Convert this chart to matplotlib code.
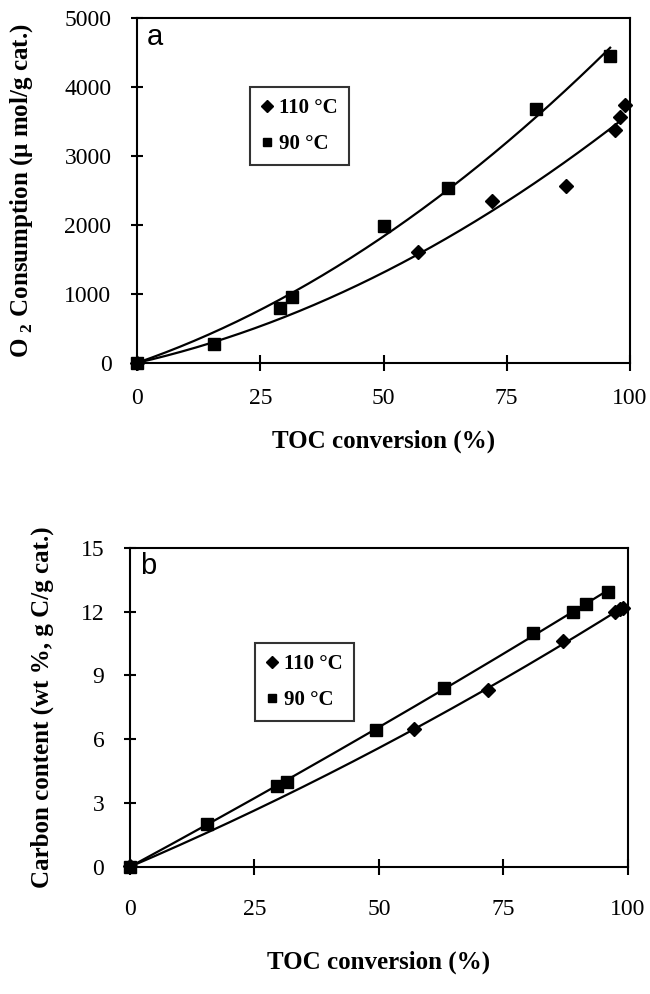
import numpy as np
import matplotlib
matplotlib.use("Agg")
import matplotlib.pyplot as plt

plt.rcParams['font.family'] = ['Liberation Serif', 'DejaVu Serif']
plt.rcParams['mathtext.fontset'] = 'custom'
plt.rcParams['mathtext.rm'] = 'Liberation Serif'
plt.rcParams['mathtext.bf'] = 'Liberation Serif:bold'

# Panel a: O2 consumption
a_x90 = [0, 15.5, 29, 31.5, 50, 63, 81, 96]
a_y90 = [0, 270, 800, 950, 1990, 2540, 3680, 4450]
a_x110 = [0, 57, 72, 87, 97, 98, 99]
a_y110 = [0, 1610, 2350, 2560, 3380, 3570, 3740]

# Panel b: carbon content
b_x90 = [0, 15.5, 29.5, 31.5, 49.5, 63, 81, 89, 91.5, 96]
b_y90 = [0, 2.0, 3.8, 4.0, 6.45, 8.4, 11.0, 12.0, 12.35, 12.9]
b_x110 = [0, 57, 72, 87, 97.5, 98.5, 99]
b_y110 = [0.05, 6.5, 8.3, 10.6, 12.0, 12.1, 12.15]

xticks = [0, 25, 50, 75, 100]
a_yticks = [0, 1000, 2000, 3000, 4000, 5000]
b_yticks = [0, 3, 6, 9, 12, 15]


def fit_curve(x, y, deg):
    x = np.asarray(x, float)
    y = np.asarray(y, float)
    A = np.vstack([x ** k for k in range(1, deg + 1)]).T
    coef, *_ = np.linalg.lstsq(A, y, rcond=None)
    xs = np.linspace(0, x.max(), 200)
    ys = sum(c * xs ** (k + 1) for k, c in enumerate(coef))
    return xs, ys


fig = plt.figure(figsize=(6.5, 9.94), dpi=100)
ax1 = fig.add_axes([0.211, 0.635, 0.758, 0.347])
ax2 = fig.add_axes([0.200, 0.128, 0.766, 0.321])


def style(ax, yticks, ylim, ylabel, letter, legloc, ylabelpad, xpad, xlabelpad):
    ax.set_xlim(0, 100)
    ax.set_ylim(*ylim)
    ax.set_xticks(xticks)
    ax.set_yticks(yticks)
    ax.tick_params(axis='x', direction='inout', length=12, width=1.5, pad=xpad, labelsize=17)
    ax.tick_params(axis='y', direction='inout', length=9, width=1.5, pad=14, labelsize=17)
    for s in ax.spines.values():
        s.set_linewidth(1.5)
    ax.set_xlabel('TOC conversion (%)', fontsize=18, fontweight='bold', labelpad=xlabelpad)
    ax.set_ylabel(ylabel, fontsize=18, fontweight='bold', labelpad=ylabelpad)
    ax.text(0.02, 0.985, letter, transform=ax.transAxes, fontsize=21,
            family='Liberation Sans', va='top', ha='left')
    leg = ax.legend(loc='upper left', bbox_to_anchor=legloc, frameon=True,
                    fancybox=False, edgecolor='black', handlelength=0.5,
                    handletextpad=0.35, borderpad=0.55, labelspacing=0.75,
                    borderaxespad=0, markerscale=0.8,
                    prop={'family': 'Liberation Serif', 'weight': 'bold', 'size': 15})
    leg.get_frame().set_linewidth(1.5)


for ax, x110, y110, x90, y90 in [(ax1, a_x110, a_y110, a_x90, a_y90),
                                 (ax2, b_x110, b_y110, b_x90, b_y90)]:
    xs, ys = fit_curve(x90, y90, 2)
    ax.plot(xs, ys, color='black', lw=1.6, zorder=2)
    xs, ys = fit_curve(x110, y110, 2)
    ax.plot(xs, ys, color='black', lw=1.6, zorder=2)
    ax.plot(x110, y110, 'D', color='black', ms=7.5, ls='none', label='110 \u00b0C', zorder=3, clip_on=False)
    ax.plot(x90, y90, 's', color='black', ms=8, ls='none', label='90 \u00b0C', zorder=3, clip_on=False)

style(ax1, a_yticks, (0, 5000), r'O $_{\mathbf{2}}$ Consumption (μ mol/g cat.)', 'a',
      (0.229, 0.80), 21, 12, 15)
style(ax2, b_yticks, (0, 15), 'Carbon content (wt %, g C/g cat.)', 'b',
      (0.251, 0.702), 19, 17, 22)

fig.savefig('out.png', dpi=100)
